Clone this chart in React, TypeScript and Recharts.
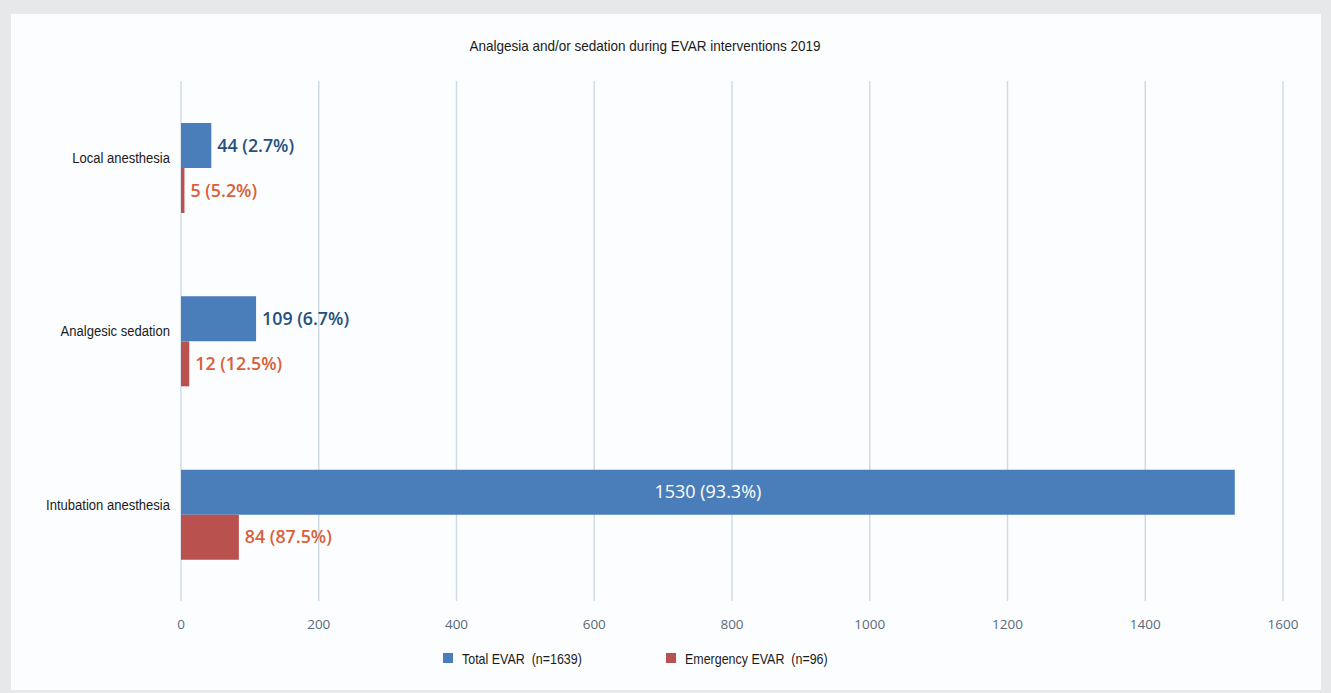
import { Bar, BarChart, CartesianGrid, LabelList, XAxis, YAxis } from "recharts";

// categories and values
const categories = ["Local anesthesia", "Analgesic sedation", "Intubation anesthesia"];
const totalEvar = [44, 109, 1530];
const totalPct = ["2.7%", "6.7%", "93.3%"];
const emergencyEvar = [5, 12, 84];
const emergencyPct = ["5.2%", "12.5%", "87.5%"];
const xTicks = [0, 200, 400, 600, 800, 1000, 1200, 1400, 1600];
const legendItems = ["Total EVAR  (n=1639)", "Emergency EVAR  (n=96)"];

const BLUE = "#4a7ebb";
const RED = "#b9514f";
const SANS = "'Liberation Sans', Arial, sans-serif";

const data = categories.map((name, i) => ({
  name,
  total: totalEvar[i],
  emergency: emergencyEvar[i],
}));

// no narrow font installed, so squeeze Liberation Sans horizontally
function CategoryTick(props: any) {
  const { x, y, payload } = props;
  return (
    <text transform={`translate(${x - 3},${y - 10}) scale(0.87,1)`} dy="0.35em" textAnchor="end"
      fontFamily={SANS} fontSize={15} fill="#1b1b1b">
      {payload.value}
    </text>
  );
}

function makeLabel(pcts: string[], color: string) {
  return (props: any) => {
    const { x, y, width, height, value, index } = props;
    const text = `${value} (${pcts[index]})`;
    // the long bar carries its label inside, in white
    if (value > 1000) {
      return (
        <text x={x + width / 2} y={y + height / 2} dy="0.35em" textAnchor="middle"
          fontFamily="'Open Sans', sans-serif" fontSize={18} fill="#ffffff">
          {text}
        </text>
      );
    }
    return (
      <text x={x + width + 6} y={y + height / 2} dy="0.35em" textAnchor="start"
        fontFamily="'Open Sans', sans-serif" fontWeight={600} fontSize={17.8} fill={color}>
        {text}
      </text>
    );
  };
}

export default function App() {
  const colors = [BLUE, RED];
  const lefts = [443, 666];
  return (
    <div style={{ position: "absolute", left: 0, top: 0, width: 1331, height: 693, background: "#e7e8ea" }}>
      <div style={{ position: "absolute", left: 11, top: 14, width: 1310, height: 676, background: "#fcfdfe" }} />
      <div style={{ position: "absolute", left: 0, top: 37, width: 1290, textAlign: "center", fontFamily: SANS, fontSize: 15, color: "#1b1b1b", transform: "scaleX(0.9)" }}>
        Analgesia and/or sedation during EVAR interventions 2019
      </div>
      <div style={{ position: "absolute", left: 0, top: 0 }}>
        <BarChart
          width={1331}
          height={693}
          data={data}
          layout="vertical"
          margin={{ top: 81, right: 48, bottom: 62, left: 11 }}
          barGap={0}
          barSize={45}
        >
          <CartesianGrid horizontal={false} stroke="#cfdce8" strokeWidth={1.5} />
          <XAxis
            type="number"
            domain={[0, 1600]}
            ticks={xTicks}
            axisLine={false}
            tickLine={false}
            tickMargin={12}
            tick={{ fill: "#5b6b78", fontSize: 13.5, fontFamily: "'Open Sans', sans-serif" }}
          />
          <YAxis
            type="category"
            dataKey="name"
            width={170}
            axisLine={false}
            tickLine={false}
            tick={<CategoryTick />}
          />
          <Bar dataKey="total" fill={BLUE} isAnimationActive={false}>
            <LabelList dataKey="total" content={makeLabel(totalPct, "#24507f")} />
          </Bar>
          <Bar dataKey="emergency" fill={RED} isAnimationActive={false}>
            <LabelList dataKey="emergency" content={makeLabel(emergencyPct, "#d9603a")} />
          </Bar>
        </BarChart>
      </div>
      {legendItems.map((label, i) => (
        <div key={label} style={{ position: "absolute", left: lefts[i], top: 648, height: 20, display: "flex", alignItems: "center" }}>
          <span style={{ width: 10, height: 10, background: colors[i], display: "inline-block", marginRight: 9 }} />
          <span style={{ fontFamily: SANS, fontSize: 15, color: "#1b1b1b", whiteSpace: "pre", display: "inline-block", transform: "scaleX(0.83)", transformOrigin: "left center" }}>
            {label}
          </span>
        </div>
      ))}
    </div>
  );
}
